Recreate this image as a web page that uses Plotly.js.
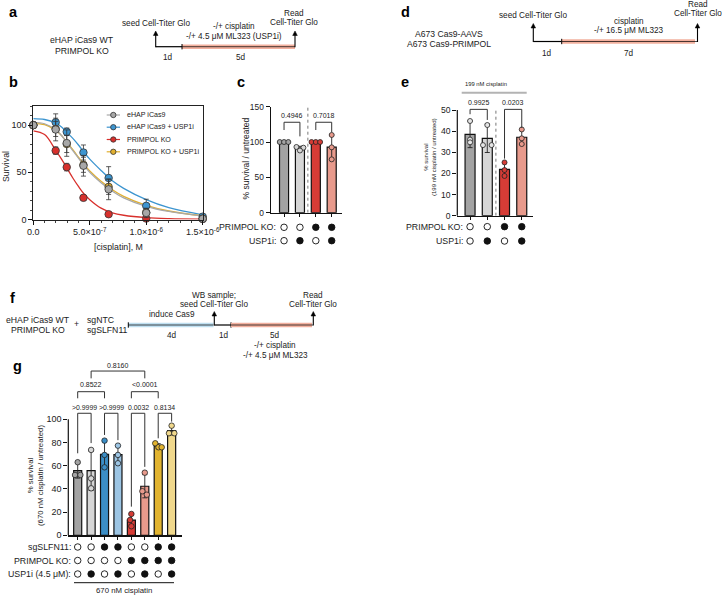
<!DOCTYPE html>
<html>
<head>
<meta charset="utf-8">
<script src="https://cdn.plot.ly/plotly-3.0.1.min.js"></script>
<style>
html, body { margin:0; padding:0; background:#ffffff; }
#chart { width:722px; height:595px; }
</style>
</head>
<body>
<div id="chart"></div>
<script>
// ================= DATA =================
// Panel b : dose response
const bConc = [0, 1.98e-7, 2.96e-7, 4.44e-7, 6.67e-7, 1.0e-6, 1.5e-6];
const bNames = ['eHAP iCas9', 'eHAP iCas9 + USP1i', 'PRIMPOL KO', 'PRIMPOL KO + USP1i'];
const bGray = [100, 95.4, 81, 57, 32, 7, 0.8];
const bGrayErr = [0, 12, 14, 11, 11, 5, 1];
const bBlue = [100, 103, 93, 71, 44, 14.5, 3];
const bBlueErr = [0, 9, 4, 8, 12, 7, 1];
const bRed = [100, 73, 55.5, 23, 5.6, 1, 0.5];
const bRedErr = [0, 4, 4, 3, 1.5, 0.5, 0.3];
const bYellow = [100, 96, 80, 58, 34.6, 7.5, 1];
const bYellowErr = [0, 8, 9, 8, 8, 4, 1];
// fitted curves
const bFitConc = [0, 1e-7, 2e-7, 2.5e-7, 3e-7, 3.5e-7, 4e-7, 4.5e-7, 5e-7, 6e-7, 7e-7, 8e-7, 1e-6, 1.2e-6, 1.5e-6];
const bFitGray = [103, 101.5, 95, 89, 81, 73, 65, 57, 50, 39, 30, 23, 14, 8.5, 3.5];
const bFitBlue = [107, 106, 102, 98, 92, 86, 79, 71, 64, 52, 41, 33, 21, 12.5, 5];
const bFitRed = [94, 90, 73, 64, 54, 44, 35, 27, 21, 12, 7, 4.5, 2, 1, 0.5];
const bFitYellow = [102, 100.5, 94.5, 89, 81.5, 74, 66, 58, 51.5, 40.5, 31.5, 24.5, 15, 9, 4];
const bXTickVals = [0, 5e-7, 1e-6, 1.5e-6];
const bXTickText = ['0.0', '5.0×10<sup>-7</sup>', '1.0×10<sup>-6</sup>', '1.5×10<sup>-6</sup>'];

// Panel c
const cPrimpol = [0, 0, 1, 1];
const cUsp1i = [0, 1, 0, 1];
const cMean = [100, 91, 100, 92.7];
const cErr = [0, 3, 0, 17.3];
const cPts = [[100, 100, 100], [93, 92, 88], [100, 100, 100], [110, 92.5, 75.5]];
const cP = ['0.4946', '0.7018'];

// Panel e
const ePrimpol = [0, 0, 1, 1];
const eUsp1i = [0, 1, 0, 1];
const eMean = [38.5, 36.6, 21.9, 37.1];
const eErr = [6.3, 6.7, 3.2, 3.5];
const ePts = [[44.8, 36, 34.7], [42.9, 33.4, 33.4], [25.2, 21.6, 18.8], [40.8, 36.6, 33.9]];
const eP = ['0.9925', '0.0203'];

// Panel g
const gSlfn = [0, 0, 1, 1, 0, 0, 1, 1];
const gPrimpol = [0, 0, 0, 0, 1, 1, 1, 1];
const gUsp1i = [0, 1, 0, 1, 0, 1, 0, 1];
const gMean = [55.7, 55.7, 69.8, 69.6, 13.1, 42.3, 77, 90.2];
const gErr = [6.4, 17, 11.5, 7.6, 5.3, 10, 2, 3.7];
const gPts = [[63, 52, 52], [73.6, 49, 40.5], [81.6, 69.3, 58.6], [77.3, 69.3, 62.1],
              [18.4, 13.2, 7.8], [54, 38, 35], [79.3, 75.9, 75.9], [94.5, 88, 88]];
const gP1 = ['&gt;0.9999', '&gt;0.9999', '0.0032', '0.8134'];
const gP2 = ['0.8522', '&lt;0.0001'];
const gP3 = ['0.8160'];

// ================= STYLE / LAYOUT HELPERS =================
const FONT = 'Liberation Sans, Arial, Helvetica, sans-serif';
const TXT = '#222222';
const W = 722, H = 595;
const px = x => x / W;
const py = y => 1 - y / H;
const ann = [];
const shp = [];
const traces = [];
const SMALL = 8.2;   // schematic text size

function T(x, y, text, size, o) {
  ann.push(Object.assign({
    x: px(x), y: py(y), xref: 'paper', yref: 'paper', text: text, showarrow: false,
    font: {family: FONT, size: size || SMALL, color: TXT}, xanchor: 'center', yanchor: 'middle'
  }, o || {}));
}
function L(x0, y0, x1, y1, color, width, dash) {
  shp.push({type: 'line', xref: 'paper', yref: 'paper', x0: px(x0), y0: py(y0), x1: px(x1), y1: py(y1),
    line: {color: color || '#000', width: width || 1, dash: dash || 'solid'}});
}
function R(x0, y0, x1, y1, fill) {
  shp.push({type: 'rect', xref: 'paper', yref: 'paper', x0: px(x0), y0: py(y0), x1: px(x1), y1: py(y1),
    fillcolor: fill, line: {width: 0}});
}
function C(cx, cy, r, fill, lc) {
  shp.push({type: 'circle', xref: 'paper', yref: 'paper', x0: px(cx - r), x1: px(cx + r), y0: py(cy + r), y1: py(cy - r),
    fillcolor: fill, line: {color: lc || '#333', width: 0.8}});
}
function ARROW(x, yBase, yTop) {
  L(x, yBase, x, yTop + 3, '#000', 1.1);
  shp.push({type: 'path', xref: 'paper', yref: 'paper',
    path: 'M ' + px(x) + ' ' + py(yTop) + ' L ' + px(x - 2.3) + ' ' + py(yTop + 4.5) + ' L ' + px(x + 2.3) + ' ' + py(yTop + 4.5) + ' Z',
    fillcolor: '#000', line: {color: '#000', width: 0.5}});
}
function bracket(xa, ya, x0, x1, yTop, yL0, yL1, label, textY, fs) {
  shp.push({type: 'path', xref: xa, yref: ya,
    path: 'M ' + x0 + ' ' + yL0 + ' L ' + x0 + ' ' + yTop + ' L ' + x1 + ' ' + yTop + ' L ' + x1 + ' ' + yL1,
    line: {color: '#333', width: 1}});
  ann.push({xref: xa, yref: ya, x: (x0 + x1) / 2, y: textY, text: label, showarrow: false,
    font: {family: FONT, size: fs || 7, color: TXT}, xanchor: 'center', yanchor: 'middle'});
}

// ================= PANEL LETTERS =================
[['a', 13, 12], ['b', 13, 82], ['c', 241, 82], ['d', 405, 12], ['e', 405, 82], ['f', 12, 298], ['g', 17, 366]]
  .forEach(l => T(l[1], l[2], '<b>' + l[0] + '</b>', 14, {font: {family: FONT, size: 14.5, color: '#000'}}));

// ================= PANEL a (schematic) =================
const SALMON = '#f2b09e', BLUEBAR = '#bfdff0';
T(81.7, 40, 'eHAP iCas9 WT', 8.7);
T(81.7, 51, 'PRIMPOL KO', 8.7);
L(155.7, 46.7, 182, 46.7, '#000', 1.2);
R(182, 44.4, 295, 49, SALMON);
L(182, 46.7, 295, 46.7, '#000', 0.7);
L(182, 44, 182, 49.4, '#000', 1);
ARROW(155.7, 47.2, 31);
ARROW(295, 47.2, 31);
T(155.7, 24, 'seed Cell-Titer Glo');
T(234, 27, '-/+ cisplatin');
T(234, 36.5, '-/+ 4.5 μM ML323 (USP1i)');
T(294, 13, 'Read');
T(294, 23, 'Cell-Titer Glo');
T(168, 58, '1d');
T(240.5, 58, '5d');

// ================= PANEL d (schematic) =================
T(449.3, 34.3, 'A673 Cas9-AAVS', 8.6);
T(449.3, 43.8, 'A673 Cas9-PRIMPOL', 8.6);
L(533.3, 41.5, 561.7, 41.5, '#000', 1.2);
R(561.7, 39.2, 695, 43.8, SALMON);
L(561.7, 41.5, 697, 41.5, '#000', 0.7);
L(561.7, 38.8, 561.7, 44.2, '#000', 1);
ARROW(533.3, 42, 23.5);
ARROW(697.5, 42, 23.5);
T(533.3, 15, 'seed Cell-Titer Glo');
T(629.3, 21.5, 'cisplatin');
T(629.3, 30.5, '-/+ 16.5 μM ML323');
T(697.5, 4.5, 'Read');
T(697.5, 13.8, 'Cell-Titer Glo');
T(546.7, 53.3, '1d');
T(629.3, 53.3, '7d');

// ================= PANEL f (schematic) =================
T(37.5, 320, 'eHAP iCas9 WT', 8.7);
T(37.5, 330, 'PRIMPOL KO', 8.7);
T(76, 324.5, '+', 8.7);
T(85, 320, 'sgNTC', 8.7, {xanchor: 'left'});
T(85, 330, 'sgSLFN11', 8.7, {xanchor: 'left'});
R(128.3, 322.7, 213.5, 327.3, BLUEBAR);
L(128.3, 325, 213.5, 325, '#000', 0.7);
L(128.3, 322.3, 128.3, 327.7, '#000', 1);
L(214.3, 325, 231, 325, '#000', 1.2);
L(231, 322.3, 231, 327.7, '#000', 1);
R(231, 322.7, 312, 327.3, SALMON);
L(231, 325, 313, 325, '#000', 0.7);
ARROW(214.3, 325.5, 311.5);
ARROW(313.3, 325.5, 311.5);
T(171.7, 314.3, 'induce Cas9');
T(214.3, 295, 'WB sample;');
T(214.3, 304.3, 'seed Cell-Titer Glo');
T(313.3, 295, 'Read');
T(313.3, 304.3, 'Cell-Titer Glo');
T(171.7, 335.5, '4d');
T(224, 335.5, '1d');
T(275, 335.5, '5d');
T(275, 345.7, '-/+ cisplatin');
T(275, 355.7, '-/+ 4.5 μM ML323');

// ================= PANEL b =================
const bStyle = [
  {y: bBlue, err: bBlueErr, fit: bFitBlue, color: '#3d95d0'},
  {y: bRed, err: bRedErr, fit: bFitRed, color: '#d8302c'},
  {y: bYellow, err: bYellowErr, fit: bFitYellow, color: '#e1b030'},
  {y: bGray, err: bGrayErr, fit: bFitGray, color: '#a8a8a8'}
];
bStyle.forEach(s => traces.push({type: 'scatter', mode: 'lines', x: bFitConc, y: s.fit, xaxis: 'x', yaxis: 'y',
  line: {color: s.color, width: 1.3, shape: 'spline', smoothing: 1}, hoverinfo: 'skip', showlegend: false}));
bStyle.forEach(s => traces.push({type: 'scatter', mode: 'markers', x: bConc, y: s.y, xaxis: 'x', yaxis: 'y',
  cliponaxis: false, showlegend: false,
  error_y: {type: 'data', array: s.err, visible: true, color: '#333', thickness: 0.8, width: 2.5},
  marker: {size: 7.5, color: s.color, line: {color: '#333', width: 0.8}}}));
// legend (custom, compact)
const legColors = ['#a8a8a8', '#3d95d0', '#d8302c', '#e1b030'];
const legY = [115, 127.2, 139.5, 151.8];
bNames.forEach((n, i) => {
  L(106.7, legY[i], 120, legY[i], legColors[i], 1.2);
  C(113.3, legY[i], 2.7, legColors[i], '#333');
  T(125, legY[i], n, 7.1, {xanchor: 'left'});
});
T(6, 167, 'Survival', 8.7, {textangle: -90});
T(118, 246.5, '[cisplatin], M', 8.8);

// ================= PANEL c =================
const cColors = ['#a3a3a3', '#d6d6d6', '#d63c36', '#e89a8c'];
const cJit = [[-0.27, 0, 0.27], [-0.22, 0.22, 0], [-0.27, 0, 0.27], [0, 0, 0]];
traces.push({type: 'bar', x: [0, 1, 2, 3], y: cMean, width: 0.57, xaxis: 'x2', yaxis: 'y2', showlegend: false,
  marker: {color: cColors, line: {color: '#111', width: 1.2}},
  error_y: {type: 'data', array: cErr, visible: true, color: '#222', thickness: 0.9, width: 2.5}});
(function () {
  const xs = [], ys = [], cs = [];
  cPts.forEach((arr, i) => arr.forEach((v, j) => { xs.push(i + cJit[i][j]); ys.push(v); cs.push(cColors[i]); }));
  traces.push({type: 'scatter', mode: 'markers', x: xs, y: ys, xaxis: 'x2', yaxis: 'y2', cliponaxis: false, showlegend: false,
    marker: {size: 5, color: cs, line: {color: '#222', width: 0.8}}});
})();
[cPrimpol, cUsp1i].forEach((row, r) => traces.push({type: 'scatter', mode: 'markers', x: [0, 1, 2, 3], y: row.map(() => -r),
  xaxis: 'x2', yaxis: 'y3', cliponaxis: false, showlegend: false,
  marker: {size: 6.5, color: row.map(v => v ? '#111' : '#fff'), line: {color: '#111', width: 0.9}}}));
T(278, 227.3, 'PRIMPOL KO:', 8.8, {xanchor: 'right'});
T(278, 240.7, 'USP1i:', 8.8, {xanchor: 'right'});
T(245.5, 158, '% survival / untreated', 8.5, {textangle: -90});
bracket('x2', 'y2', 0, 1, 128, 117, 108, cP[0], 137, 7);
bracket('x2', 'y2', 2, 3, 128, 117, 114, cP[1], 137, 7);
shp.push({type: 'line', xref: 'x2', yref: 'y2', x0: 1.5, x1: 1.5, y0: 0, y1: 150, line: {color: '#777', width: 1, dash: 'dot'}});

// ================= PANEL e =================
const eJit = [[0, 0, 0], [0, -0.25, 0.25], [0, 0, 0], [0, 0, 0]];
traces.push({type: 'bar', x: [0, 1, 2, 3], y: eMean, width: 0.58, xaxis: 'x4', yaxis: 'y4', showlegend: false,
  marker: {color: cColors, line: {color: '#111', width: 1.2}},
  error_y: {type: 'data', array: eErr, visible: true, color: '#222', thickness: 0.9, width: 2.5}});
(function () {
  const xs = [], ys = [], cs = [];
  const ptCol = ['#e6e6e6', '#e6e6e6', '#d63c36', '#e89a8c'];
  ePts.forEach((arr, i) => arr.forEach((v, j) => { xs.push(i + eJit[i][j]); ys.push(v); cs.push(ptCol[i]); }));
  traces.push({type: 'scatter', mode: 'markers', x: xs, y: ys, xaxis: 'x4', yaxis: 'y4', cliponaxis: false, showlegend: false,
    marker: {size: 5, color: cs, line: {color: '#222', width: 0.8}}});
})();
[ePrimpol, eUsp1i].forEach((row, r) => traces.push({type: 'scatter', mode: 'markers', x: [0, 1, 2, 3], y: row.map(() => -r),
  xaxis: 'x4', yaxis: 'y5', cliponaxis: false, showlegend: false,
  marker: {size: 6.5, color: row.map(v => v ? '#111' : '#fff'), line: {color: '#111', width: 0.9}}}));
T(465, 226.7, 'PRIMPOL KO:', 8.8, {xanchor: 'right'});
T(465, 241, 'USP1i:', 8.8, {xanchor: 'right'});
T(430, 157, '% survival<br>(199 nM cisplatin / untreated)', 6, {textangle: -90});
L(461.7, 92.7, 526.7, 92.7, '#b3b3b3', 2);
T(486, 84.3, '199 nM cisplatin', 5.8);
bracket('x4', 'y4', 0, 1, 50.3, 48, 45.3, eP[0], 53.6, 7);
bracket('x4', 'y4', 2, 3, 50.3, 27, 41.5, eP[1], 53.6, 7);
shp.push({type: 'line', xref: 'x4', yref: 'y4', x0: 1.5, x1: 1.5, y0: 0, y1: 51, line: {color: '#777', width: 1, dash: 'dot'}});
shp.push({type: 'line', xref: 'x4 domain', yref: 'y4 domain', x0: 0, x1: 0, y0: 0, y1: 50 / 55, line: {color: '#111', width: 1.2}});

// ================= PANEL g =================
const gColors = ['#a3a3a3', '#d6d6d6', '#3b8ec6', '#9cc5e4', '#d63c36', '#e89a8c', '#e2b42f', '#f0d88c'];
const gJit = [[0, -0.2, 0.2], [0, 0, 0], [0, 0, 0], [0, 0, 0], [0, -0.1, 0], [0, -0.18, 0.15], [-0.22, 0.02, 0.26], [0, -0.2, 0.2]];
traces.push({type: 'bar', x: [0, 1, 2, 3, 4, 5, 6, 7], y: gMean, width: 0.6, xaxis: 'x6', yaxis: 'y6', showlegend: false,
  marker: {color: gColors, line: {color: '#111', width: 1.2}},
  error_y: {type: 'data', array: gErr, visible: true, color: '#222', thickness: 0.9, width: 2.5}});
(function () {
  const xs = [], ys = [], cs = [];
  gPts.forEach((arr, i) => arr.forEach((v, j) => { xs.push(i + gJit[i][j]); ys.push(v); cs.push(gColors[i]); }));
  traces.push({type: 'scatter', mode: 'markers', x: xs, y: ys, xaxis: 'x6', yaxis: 'y6', cliponaxis: false, showlegend: false,
    marker: {size: 5.5, color: cs, line: {color: '#222', width: 0.8}}});
})();
[gSlfn, gPrimpol, gUsp1i].forEach((row, r) => traces.push({type: 'scatter', mode: 'markers', x: [0, 1, 2, 3, 4, 5, 6, 7],
  y: row.map(() => -r), xaxis: 'x6', yaxis: 'y7', cliponaxis: false, showlegend: false,
  marker: {size: 6.5, color: row.map(v => v ? '#111' : '#fff'), line: {color: '#111', width: 0.9}}}));
T(72.5, 547, 'sgSLFN11:', 8.8, {xanchor: 'right'});
T(72.5, 560.7, 'PRIMPOL KO:', 8.8, {xanchor: 'right'});
T(72.5, 574, 'USP1i (4.5 μM):', 8.8, {xanchor: 'right'});
L(74, 582.7, 174, 582.7, '#111', 1);
T(124, 590, '670 nM cisplatin', 7.8);
T(35, 476, '% survival<br>(670 nM cisplatin / untreated)', 7.8, {textangle: -90});
const gLeg = [70.7, 79.5, 86.5, 82, 24.7, 59, 83.6, 98];
for (let k = 0; k < 4; k++) bracket('x6', 'y6', 2 * k, 2 * k + 1, 105.2, gLeg[2 * k], gLeg[2 * k + 1], gP1[k], 110, 6.9);
bracket('x6', 'y6', 0, 2, 123.8, 118.1, 118.1, gP2[0], 129.6, 7);
bracket('x6', 'y6', 4, 6, 123.8, 118.1, 118.1, gP2[1], 129.6, 7);
bracket('x6', 'y6', 1, 5, 141.6, 135.3, 135.3, gP3[0], 146.2, 7);
shp.push({type: 'line', xref: 'x6 domain', yref: 'y6 domain', x0: 0, x1: 0, y0: 0, y1: 100 / 150, line: {color: '#111', width: 1.2}});

// ================= AXES =================
const tickF = s => ({family: FONT, size: s, color: TXT});
const base = {showgrid: false, zeroline: false, fixedrange: true, ticks: 'outside', tickcolor: '#111', tickwidth: 1};
const layout = {
  width: W, height: H, autosize: false, margin: {l: 0, r: 0, t: 0, b: 0},
  paper_bgcolor: '#fff', plot_bgcolor: 'rgba(0,0,0,0)', showlegend: false,
  font: {family: FONT, color: TXT},
  xaxis: Object.assign({}, base, {domain: [px(33.3), px(202.7)], range: [0, 1.5e-6], anchor: 'y',
    showline: true, mirror: true, linecolor: '#222', linewidth: 1, ticklen: 4,
    tickmode: 'array', tickvals: bXTickVals, ticktext: bXTickText, tickfont: tickF(9),
    minor: {tickmode: 'linear', tick0: 0, dtick: 1e-7, ticks: 'outside', ticklen: 2.5, tickcolor: '#111', tickwidth: 0.8}}),
  yaxis: Object.assign({}, base, {domain: [py(219.5), py(106.3)], range: [0, 120], anchor: 'x',
    showline: true, mirror: true, linecolor: '#222', linewidth: 1, ticklen: 4,
    tickmode: 'array', tickvals: [0, 50, 100], tickfont: tickF(9),
    minor: {tickmode: 'linear', tick0: 0, dtick: 10, ticks: 'outside', ticklen: 2, tickcolor: '#111', tickwidth: 0.8}}),
  xaxis2: Object.assign({}, base, {domain: [px(270.7), px(341.7)], range: [-0.84, 3.63], anchor: 'y2',
    showline: true, linecolor: '#111', linewidth: 1.2, ticklen: 3, tickmode: 'array', tickvals: [0, 1, 2, 3], showticklabels: false}),
  yaxis2: Object.assign({}, base, {domain: [py(212.7), py(106.7)], range: [0, 150], anchor: 'x2',
    showline: true, linecolor: '#111', linewidth: 1.2, ticklen: 4, tickmode: 'array', tickvals: [0, 50, 100, 150], tickfont: tickF(8.4)}),
  yaxis3: {domain: [py(247.4), py(220.6)], range: [-1.5, 0.5], anchor: 'x2', visible: false, fixedrange: true},
  xaxis4: Object.assign({}, base, {domain: [px(457.3), px(533.3)], range: [-0.74, 3.67], anchor: 'y4',
    showline: true, linecolor: '#111', linewidth: 1.2, ticklen: 3, tickmode: 'array', tickvals: [0, 1, 2, 3], showticklabels: false}),
  yaxis4: Object.assign({}, base, {domain: [py(215.7), py(215.7 - 55 * 2.114)], range: [0, 55], anchor: 'x4',
    showline: false, ticklen: 4, tickmode: 'array', tickvals: [0, 10, 20, 30, 40, 50], tickfont: tickF(8.6)}),
  yaxis5: {domain: [py(248.2), py(219.5)], range: [-1.5, 0.5], anchor: 'x4', visible: false, fixedrange: true},
  xaxis6: Object.assign({}, base, {domain: [px(68.3), px(181.7)], range: [-0.7, 7.75], anchor: 'y6',
    showline: true, linecolor: '#111', linewidth: 1.2, ticklen: 3, tickmode: 'array', tickvals: [0, 1, 2, 3, 4, 5, 6, 7], showticklabels: false}),
  yaxis6: Object.assign({}, base, {domain: [py(535.3), py(535.3 - 150 * 1.16)], range: [0, 150], anchor: 'x6',
    showline: false, ticklen: 4, tickmode: 'array', tickvals: [0, 20, 40, 60, 80, 100], tickfont: tickF(9)}),
  yaxis7: {domain: [py(580.75), py(540.25)], range: [-2.5, 0.5], anchor: 'x6', visible: false, fixedrange: true},
  annotations: ann,
  shapes: shp
};

Plotly.newPlot('chart', traces, layout, {staticPlot: true, displayModeBar: false});
</script>
</body>
</html>
